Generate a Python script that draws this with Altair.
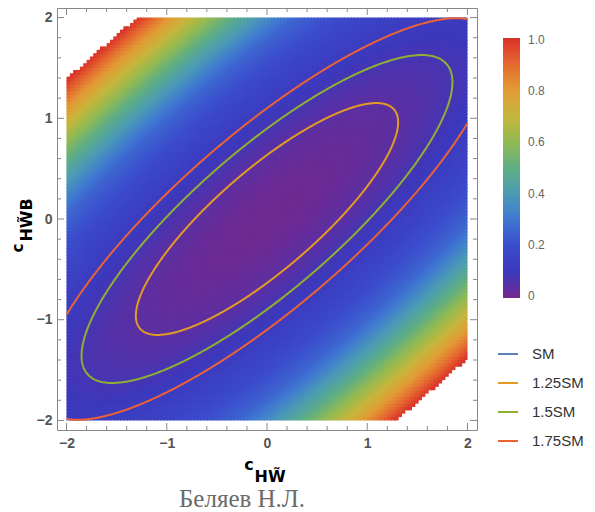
import numpy as np
import pandas as pd
import altair as alt

# quadratic form q = A*x^2 + B*y^2 - 2*C*x*y  (ratio to SM = 1 + q)
A, B, C = 0.48, 0.62, 0.455
# colour value read against q (piecewise), white above the last break
Q_BREAKS = [0.0, 0.8, 2.0, 5.6]
V_BREAKS = [0.0, 0.12, 0.26, 1.0]
contour_levels = [0.25, 0.5, 0.75]
contour_names = ["1.25SM", "1.5SM", "1.75SM"]
legend_names = ["SM", "1.25SM", "1.5SM", "1.75SM"]
line_colors = ["#5E81B5", "#E19C24", "#8FB032", "#EB6235"]
rainbow = ["#72298f", "#3c38bc", "#3b4ccc", "#3f77d2", "#4b9bb5", "#5eae85",
           "#92ba52", "#c6b63c", "#e29c35", "#e5692f", "#d9302a"]
major_ticks = [-2, -1, 0, 1, 2]
minor_ticks = [-1.8, -1.6, -1.4, -1.2, -0.8, -0.6, -0.4, -0.2,
               0.2, 0.4, 0.6, 0.8, 1.2, 1.4, 1.6, 1.8]
bar_ticks = [0, 0.2, 0.4, 0.6, 0.8, 1.0]

LO, HI = -2.0, 2.0

def qf(x, y):
    return A * x * x + B * y * y - 2 * C * x * y

# density grid
n = 120
step = (HI - LO) / n
cent = LO + step * (np.arange(n) + 0.5)
X, Y = np.meshgrid(cent, cent)
Q = qf(X, Y)
V = np.interp(Q, Q_BREAKS, V_BREAKS)
mask = Q <= Q_BREAKS[-1]
heat = pd.DataFrame({
    "x0": (X - step / 2)[mask], "x1": np.minimum(X + step * 0.9, HI)[mask],
    "y0": (Y - step / 2)[mask], "y1": np.minimum(Y + step * 0.9, HI)[mask],
    "v": V[mask],
})

# contour lines (ellipses clipped to the box)
def inside(p):
    return LO <= p[0] <= HI and LO <= p[1] <= HI

def cross(p0, p1):
    a, b = 0.0, 1.0
    in0 = inside(p0)
    for _ in range(40):
        m = (a + b) / 2
        pm = p0 + m * (p1 - p0)
        if inside(pm) == in0:
            a = m
        else:
            b = m
    return p0 + a * (p1 - p0) if in0 else p0 + b * (p1 - p0)

rows = []
theta0 = -np.pi / 4
th = theta0 + np.linspace(0, 2 * np.pi, 1441)
for lev, name in zip(contour_levels, contour_names):
    den = A * np.cos(th) ** 2 + B * np.sin(th) ** 2 - 2 * C * np.cos(th) * np.sin(th)
    r = np.sqrt(lev / den)
    pts = np.stack([r * np.cos(th), r * np.sin(th)], axis=1)
    seg, idx = 0, 0
    prev = pts[0]
    if inside(prev):
        rows.append((name, f"{name}-{seg}", idx, prev[0], prev[1])); idx += 1
    for p in pts[1:]:
        ip, ic = inside(prev), inside(p)
        if ip and ic:
            rows.append((name, f"{name}-{seg}", idx, p[0], p[1])); idx += 1
        elif ip and not ic:
            c = cross(prev, p)
            rows.append((name, f"{name}-{seg}", idx, c[0], c[1])); idx += 1
            seg += 1
        elif (not ip) and ic:
            c = cross(prev, p)
            rows.append((name, f"{name}-{seg}", idx, c[0], c[1])); idx += 1
            rows.append((name, f"{name}-{seg}", idx, p[0], p[1])); idx += 1
        prev = p
lines = pd.DataFrame(rows, columns=["level", "seg", "i", "x", "y"])

W, H = 420, 422
xs = alt.Scale(domain=[-2.095, 2.095], nice=False, zero=False)
ys = alt.Scale(domain=[-2.095, 2.095], nice=False, zero=False)

x_axis = alt.Axis(values=major_ticks, ticks=False, domain=False, grid=False,
                  labelFontSize=14, labelFontWeight="bold", labelColor="#555555",
                  labelFont="Liberation Sans", labelPadding=6, labelFlush=False)
y_axis = alt.Axis(values=major_ticks, ticks=False, domain=False, grid=False,
                  labelFontSize=14, labelFontWeight="bold", labelColor="#555555",
                  labelFont="Liberation Sans", labelPadding=5, labelFlush=False)

EPS = 0.006
heat_layer = alt.Chart(heat).mark_rect(strokeWidth=0).encode(
    x=alt.X("x0:Q", scale=xs, title=None, axis=x_axis),
    x2="x1:Q",
    y=alt.Y("y0:Q", scale=ys, title=None, axis=y_axis),
    y2="y1:Q",
    fill=alt.Fill("v:Q",
                  scale=alt.Scale(domain=[-EPS, 1 + EPS], range=rainbow, interpolate="rgb"),
                  legend=alt.Legend(orient="none", legendX=446, legendY=30, title=None,
                                    direction="vertical", gradientLength=260,
                                    gradientThickness=17, gradientStrokeWidth=0,
                                    values=bar_ticks, labelFontSize=12, labelColor="#666666",
                                    labelFont="Liberation Sans", labelOffset=8,
                                    labelExpr="datum.value == 0 ? '0' : format(datum.value, '.1f')")),
)

line_layer = alt.Chart(lines).mark_line(strokeWidth=2).encode(
    x=alt.X("x:Q", scale=xs, title=None, axis=x_axis),
    y=alt.Y("y:Q", scale=ys, title=None, axis=y_axis),
    stroke=alt.Stroke("level:N", scale=alt.Scale(domain=legend_names, range=line_colors),
                      legend=alt.Legend(orient="none", legendX=440, legendY=335, title=None,
                                        symbolType="stroke", symbolSize=400,
                                        symbolStrokeWidth=2, labelFontSize=15,
                                        labelColor="#333333", labelFont="Liberation Sans",
                                        labelOffset=13, rowPadding=10)),
    detail="seg:N",
    order="i:Q",
)

tick_color = "#888888"
maj = pd.DataFrame({"v": major_ticks})
mnr = pd.DataFrame({"v": minor_ticks})

def hticks(df, y0, y1):
    return alt.Chart(df).mark_rule(color=tick_color, strokeWidth=1).encode(
        x=alt.X("v:Q", scale=xs, title=None, axis=x_axis), y=alt.value(y0), y2=alt.value(y1))

def vticks(df, x0, x1):
    return alt.Chart(df).mark_rule(color=tick_color, strokeWidth=1).encode(
        y=alt.Y("v:Q", scale=ys, title=None, axis=y_axis), x=alt.value(x0), x2=alt.value(x1))

tick_layers = [
    hticks(maj, H, H - 7), hticks(mnr, H, H - 4),
    hticks(maj, 0, 7), hticks(mnr, 0, 4),
    vticks(maj, 0, 7), vticks(mnr, 0, 4),
    vticks(maj, W, W - 7), vticks(mnr, W, W - 4),
]

def label(text, x, y, size, angle=0, weight="bold", color="#000000",
          font="DejaVu Sans", baseline="middle"):
    return alt.Chart(pd.DataFrame({"t": [text]})).mark_text(
        fontSize=size, fontWeight=weight, color=color, font=font, angle=angle,
        align="center", baseline=baseline).encode(
        x=alt.value(x), y=alt.value(y), text="t:N")

x_title_c = "c"
x_title_sub = "HW\u0303"
y_title_c = "c"
y_title_sub = "HW\u0303B"
watermark = "Беляев Н.Л."

texts = [
    label(x_title_c, 192, 457, 16),
    label(x_title_sub, 213, 469, 16),
    label(y_title_c, -39, 240, 15, angle=270),
    label(y_title_sub, -30, 212, 16, angle=270),
    label(watermark, 185, 499, 25, weight="normal", color="#6b6b6b",
          font="Liberation Serif", baseline="alphabetic"),
]

chart = alt.layer(heat_layer, line_layer, *tick_layers, *texts).properties(
    width=W, height=H,
    padding={"left": 49, "top": 0, "right": 110, "bottom": 84},
    autosize=alt.AutoSizeParams(type="none"),
).configure_view(stroke="#888888", strokeWidth=1)

chart.save("out.html", embed_options={"renderer": "svg", "actions": False})
